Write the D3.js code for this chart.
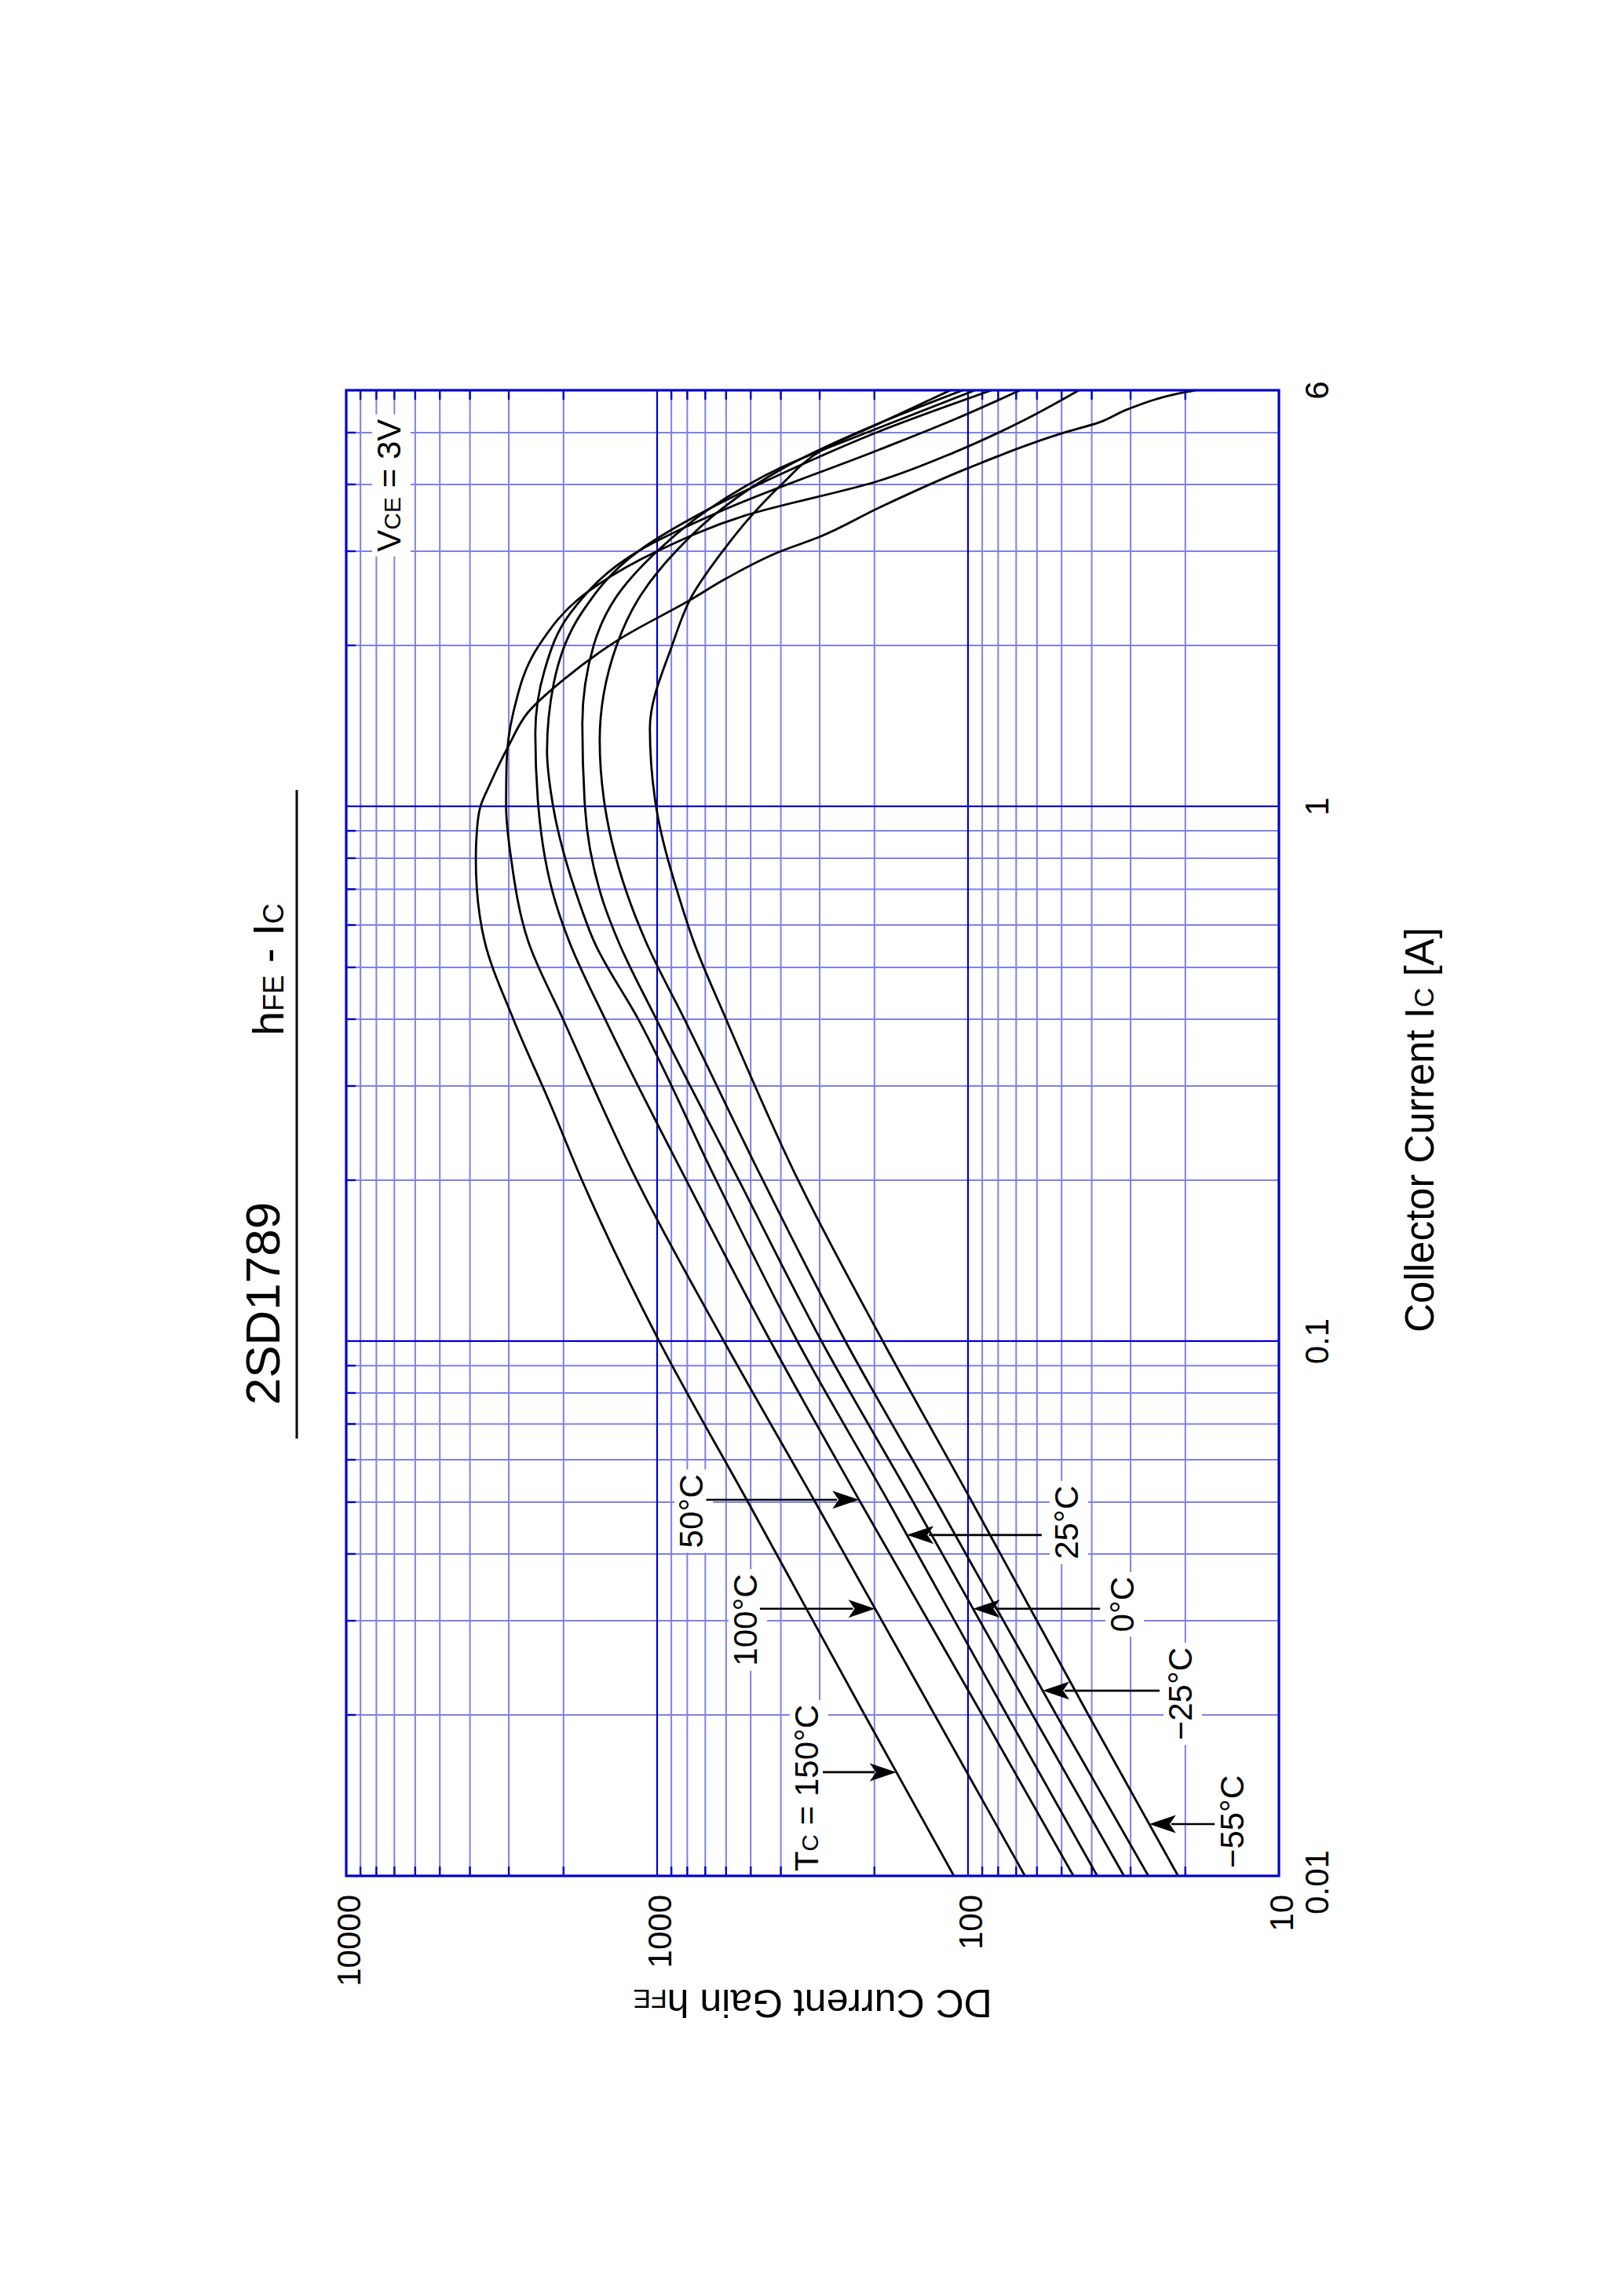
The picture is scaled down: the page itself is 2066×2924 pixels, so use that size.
<!DOCTYPE html>
<html><head><meta charset="utf-8">
<script src="https://cdn.jsdelivr.net/npm/d3@7"></script>
<style>body{margin:0;background:#fff}svg{display:block}text{font-family:"Liberation Sans",Arial,Helvetica,sans-serif;fill:#000}</style>
</head><body>
<svg id="c" width="2066" height="2924"></svg>
<script>
// ---------------- data ----------------
const icTicks = [0.01, 0.1, 1, 6];
const icTickLabels = ["0.01", "0.1", "1", "6"];
const hfeTicks = [10, 100, 1000, 10000];
const hfeTickLabels = ["10", "100", "1000", "10000"];
const icMajorGrid = [0.1, 1];
const icMinorGrid = [0.02,0.03,0.04,0.05,0.06,0.07,0.08,0.09,0.2,0.3,0.4,0.5,0.6,0.7,0.8,0.9,2,3,4,5];
const hfeMajorGrid = [100, 1000];
const hfeMinorGrid = [20,30,40,50,60,70,80,90,200,300,400,500,600,700,800,900,2000,3000,4000,5000,6000,7000,8000,9000];

// [Ic (A), hFE]
const tc150 = [[0.01,111],[0.02,215],[0.05,510],[0.1,985],[0.2,1745],[0.28,2220],[0.4,2900],[0.56,3590],[0.7,3800],[0.8,3830],[0.9,3800],[1.0,3700],[1.1,3450],[1.3,3000],[1.5,2600],[1.73,1990],[2.05,1330],[2.44,775],[2.66,605],[3.0,400],[3.18,305],[3.62,193],[4.28,101],[5.0,49],[5.22,38],[5.53,30.6],[5.95,20],[6,18.5]];
const tc100 = [[0.01,65.6],[0.02,128],[0.05,310],[0.1,610],[0.2,1163],[0.4,2007],[0.56,2600],[0.8,2950],[1.0,3060],[1.2,3050],[1.5,2900],[2.0,2400],[2.5,1700],[3.0,1000],[3.5,520],[4.06,194],[4.6,110],[5.3,65],[6,44]];
const tc50  = [[0.01,45.8],[0.02,90],[0.05,222],[0.1,432],[0.2,806],[0.4,1470],[0.56,1920],[0.66,2120],[1.0,2410],[1.37,2465],[1.8,2300],[2.3,1900],[3.0,1150],[3.6,600],[4.64,194],[5.3,110],[6,68]];
const tc25  = [[0.01,38.4],[0.02,75],[0.05,180],[0.1,354],[0.2,646],[0.4,1150],[0.56,1598],[0.66,1778],[1.0,2160],[1.27,2260],[1.7,2150],[2.3,1750],[3.0,1150],[3.6,680],[4.3,360],[5.02,194],[6,84]];
const tc0   = [[0.01,31.5],[0.02,62],[0.05,150],[0.1,296],[0.2,546],[0.4,1006],[0.56,1334],[0.66,1487],[1.0,1707],[1.43,1740],[2.0,1600],[2.5,1330],[3.0,1000],[3.6,680],[4.3,400],[5.1,194],[6,95]];
const tcm25 = [[0.01,26.3],[0.02,52],[0.05,126],[0.1,248],[0.2,457],[0.4,817],[0.56,1089],[0.66,1220],[1.0,1472],[1.33,1530],[2.0,1350],[2.5,1120],[3.0,870],[3.6,620],[4.3,390],[5.2,194],[6,104]];
const tcm55 = [[0.01,21.1],[0.02,41],[0.05,97],[0.1,188],[0.2,352],[0.4,600],[0.56,764],[0.66,839],[1.0,1008],[1.4,1055],[2.0,895],[2.47,774],[3.04,605],[3.48,501],[4.0,398],[4.63,296],[5.2,193],[6,114]];
const seriesData = [tc150, tc100, tc50, tc25, tc0, tcm25, tcm55];

// curve labels ({X} = subscript)
const labelTexts = ["T{C} = 150°C", "100°C", "50°C", "25°C", "0°C", "−25°C", "−55°C"];
const labelIc  = [0.0146, 0.0301, 0.0481, 0.0458, 0.0322, 0.0219, 0.01263];
const labelHfe = [304, 478, 713, 44.3, 29.3, 19.07, 13.0];
const arrowIc  = [0.01563, 0.0316, 0.0505, 0.0434, 0.0316, 0.0222, 0.0125];
const arrowTailHfe = [293, 467, 695, 57.9, 37.6, 24.2, 16.1];
const conditionText = "V{CE} = 3V";
const conditionIc = 5.30, conditionHfe = 6697;

// ---------------- layout ----------------
const W = 1892, H = 1188;
const LIGHT = "#8080e8", DARK = "#0000cc";
const svg = d3.select("#c");
svg.append("rect").attr("width",2066).attr("height",2924).attr("fill","#fff");
const g = svg.append("g").attr("transform","translate(441,2389) rotate(-90)");
const x = d3.scaleLog().domain([0.01, 6]).range([0, W]);
const y = d3.scaleLog().domain([10, 10000]).range([H, 0]);

function rich(sel, str, size, subSize){
  const parts = str.split(/(\{[^}]*\})/).filter(s=>s.length);
  parts.forEach(p=>{
    if (p[0]==="{") sel.append("tspan").attr("font-size",subSize).text(p.slice(1,-1));
    else sel.append("tspan").attr("font-size",size).text(p);
  });
  return sel;
}

const gridG = g.append("g");
const majG = g.append("g");
const boxG = g.append("g");
const curveG = g.append("g");
const frameG = g.append("g");
const annG = g.append("g");

// minor grid
gridG.selectAll(".mx").data(icMinorGrid).join("line")
  .attr("x1",d=>x(d)).attr("x2",d=>x(d)).attr("y1",0).attr("y2",H)
  .attr("stroke",LIGHT).attr("stroke-width",2);
gridG.selectAll(".my").data(hfeMinorGrid).join("line")
  .attr("y1",d=>y(d)).attr("y2",d=>y(d)).attr("x1",0).attr("x2",W)
  .attr("stroke",LIGHT).attr("stroke-width",2);
// major grid
majG.selectAll(".Mx").data(icMajorGrid).join("line")
  .attr("x1",d=>x(d)).attr("x2",d=>x(d)).attr("y1",0).attr("y2",H)
  .attr("stroke",DARK).attr("stroke-width",2.2);
majG.selectAll(".My").data(hfeMajorGrid).join("line")
  .attr("y1",d=>y(d)).attr("y2",d=>y(d)).attr("x1",0).attr("x2",W)
  .attr("stroke",DARK).attr("stroke-width",2.2);
// inward ticks
const TL = 12;
majG.selectAll(".tx").data(icMinorGrid).join("line")
  .attr("x1",d=>x(d)).attr("x2",d=>x(d)).attr("y1",0).attr("y2",TL)
  .attr("stroke",DARK).attr("stroke-width",2.4);
majG.selectAll(".tyl").data(hfeMinorGrid).join("line")
  .attr("y1",d=>y(d)).attr("y2",d=>y(d)).attr("x1",0).attr("x2",TL)
  .attr("stroke",DARK).attr("stroke-width",2.4);
majG.selectAll(".tyr").data(hfeMinorGrid).join("line")
  .attr("y1",d=>y(d)).attr("y2",d=>y(d)).attr("x1",W-TL).attr("x2",W)
  .attr("stroke",DARK).attr("stroke-width",2.4);

// frame
frameG.append("rect").attr("x",0).attr("y",0).attr("width",W).attr("height",H)
  .attr("fill","none").attr("stroke",DARK).attr("stroke-width",3.2);

// curves
g.append("clipPath").attr("id","clip").append("rect").attr("width",W).attr("height",H);
const line = d3.line().x(d=>x(d[0])).y(d=>y(d[1])).curve(d3.curveMonotoneX);
curveG.attr("clip-path","url(#clip)").selectAll("path").data(seriesData).join("path")
  .attr("d",line).attr("fill","none").attr("stroke","#000").attr("stroke-width",2.8)
  .attr("stroke-linejoin","round");

// tick labels
annG.selectAll(".xl").data(icTicks).join("text")
  .attr("x",(d,i)=>x(d) + (i===0 ? -8 : 0)).attr("y",H+63)
  .attr("text-anchor","middle").attr("font-size",42).text((d,i)=>icTickLabels[i]);
annG.selectAll(".yl").data(hfeTicks).join("text")
  .attr("x",-24).attr("y",d=>y(d)+3).attr("dy","0.36em")
  .attr("text-anchor","end").attr("font-size",42).text((d,i)=>hfeTickLabels[i]);

// axis titles
rich(annG.append("text").attr("x",W/2+4).attr("y",H+197).attr("text-anchor","middle"),
  "Collector Current  I{C} [A]", 51, 35);
rich(annG.append("text").attr("transform",`translate(-145,${H/2}) rotate(-90)`).attr("text-anchor","middle"),
  "DC Current Gain  h{FE}", 50, 34);

// title
annG.append("text").attr("x",729).attr("y",-85).attr("text-anchor","middle").attr("font-size",62).text("2SD1789");
rich(annG.append("text").attr("x",1070).attr("y",-80).attr("text-anchor","start"), "h{FE} - I{C}", 56, 36);
annG.append("line").attr("x1",557).attr("x2",1383).attr("y1",-63).attr("y2",-63).attr("stroke","#000").attr("stroke-width",3);

// condition label
const cond = rich(annG.append("text").attr("x",x(conditionIc)).attr("y",y(conditionHfe)).attr("text-anchor","end"), conditionText, 42, 30);

// helper: interpolate a curve in log-log space
function curveAt(data, ic){
  for (let i=0;i<data.length-1;i++){
    const a=data[i], b=data[i+1];
    if (ic>=a[0] && ic<=b[0]){
      const t=(Math.log(ic)-Math.log(a[0]))/(Math.log(b[0])-Math.log(a[0]));
      return Math.exp(Math.log(a[1])+t*(Math.log(b[1])-Math.log(a[1])));
    }
  }
  return data[0][1];
}

// curve labels and arrows
const labelNodes = [cond];
labelTexts.forEach((t,i)=>{
  const tx = rich(annG.append("text").attr("x",x(labelIc[i])).attr("y",y(labelHfe[i])).attr("text-anchor","middle"), t, 42, 30);
  labelNodes.push(tx);
  const ax = x(arrowIc[i]);
  const tail = y(arrowTailHfe[i]);
  const tip = y(curveAt(seriesData[i], arrowIc[i]));
  const dir = tip > tail ? 1 : -1;
  const HL = 34, HW = 11.5, N = 8;
  annG.append("line").attr("x1",ax).attr("x2",ax).attr("y1",tail).attr("y2",tip - dir*(HL-6))
    .attr("stroke","#000").attr("stroke-width",2.6);
  annG.append("path")
    .attr("d",`M${ax},${tip} L${ax-HW},${tip-dir*HL} L${ax},${tip-dir*(HL-N)} L${ax+HW},${tip-dir*HL} Z`)
    .attr("fill","#000");
});

// white boxes behind labels (cover grid lines)
labelNodes.forEach(n=>{
  const b = n.node().getBBox();
  boxG.append("rect").attr("x",b.x-6).attr("y",b.y+2).attr("width",b.width+12).attr("height",b.height+2)
    .attr("fill","#fff");
});
</script>
</body></html>
